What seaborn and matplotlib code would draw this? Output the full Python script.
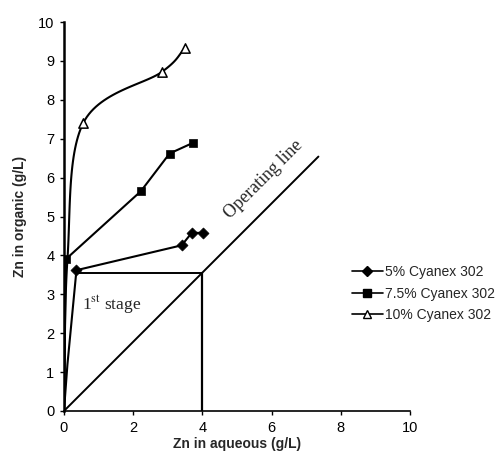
import numpy as np
import pandas as pd
import matplotlib
matplotlib.use("Agg")
import matplotlib.pyplot as plt
from matplotlib.lines import Line2D
import seaborn as sns

# Equilibrium data: Zn in aqueous vs Zn in organic (g/L)
aq_5 = [0.0, 0.10, 0.36, 3.40, 3.69, 4.01]
org_5 = [0.0, 1.20, 3.62, 4.26, 4.58, 4.58]

aq_75 = [0.0, 0.05, 2.22, 3.05, 3.74]
org_75 = [0.0, 3.90, 5.65, 6.62, 6.90]

aq_10 = [0.0, 0.10, 0.56, 2.83, 3.50]
org_10 = [0.0, 3.90, 7.41, 8.72, 9.33]

series_names = ["5% Cyanex 302", "7.5% Cyanex 302", "10% Cyanex 302"]

# Operating line and first-stage construction
op_x = [0.0, 7.35]
op_slope = 0.89
stage_aq = [0.36, 4.0]
stage_org = 3.55

x_ticks = [0, 2, 4, 6, 8, 10]
y_ticks = list(range(0, 11))

sns.set_theme(style="white")
plt.rcParams["font.family"] = ["Liberation Sans", "DejaVu Sans"]
plt.rcParams["mathtext.fontset"] = "stix"

fig = plt.figure(figsize=(5.01, 4.57), dpi=100)
ax = fig.add_axes([0.1277, 0.1007, 0.691, 0.851])

df5 = pd.DataFrame({"aq": aq_5, "org": org_5})
df75 = pd.DataFrame({"aq": aq_75, "org": org_75})
df10 = pd.DataFrame({"aq": aq_10, "org": org_10})

# 5% series: line through all points, markers on the plateau points
sns.lineplot(data=df5, x="aq", y="org", ax=ax, color="black", lw=1.5,
             sort=False, estimator=None)
sns.scatterplot(data=df5.iloc[2:], x="aq", y="org", ax=ax, marker="D",
                s=32, color="black", edgecolor="black", zorder=3)

# 7.5% series
sns.lineplot(data=df75, x="aq", y="org", ax=ax, color="black", lw=1.5,
             sort=False, estimator=None)
sns.scatterplot(data=df75.iloc[1:], x="aq", y="org", ax=ax, marker="s",
                s=38, color="black", edgecolor="black", zorder=3)


def catmull_rom(xs, ys, n=30):
    """Smoothed path through the given points (Catmull-Rom spline)."""
    p = np.column_stack([xs, ys]).astype(float)
    p = np.vstack([p[0] - (p[1] - p[0]), p, p[-1] + (p[-1] - p[-2])])
    out = []
    for i in range(1, len(p) - 2):
        p0, p1, p2, p3 = p[i - 1], p[i], p[i + 1], p[i + 2]
        t = np.linspace(0, 1, n, endpoint=False)[:, None]
        seg = 0.5 * ((2 * p1) + (-p0 + p2) * t
                     + (2 * p0 - 5 * p1 + 4 * p2 - p3) * t ** 2
                     + (-p0 + 3 * p1 - 3 * p2 + p3) * t ** 3)
        out.append(seg)
    out.append(p[-2][None, :])
    out = np.vstack(out)
    return out[:, 0], out[:, 1]


# 10% series: smoothed line, open triangles
sx, sy = catmull_rom(aq_10, org_10)
ax.plot(sx, sy, color="black", lw=1.5)
sns.scatterplot(data=df10.iloc[2:], x="aq", y="org", ax=ax, marker="^",
                s=45, facecolor="white", edgecolor="black", linewidth=1.1,
                zorder=3)

# Operating line
ax.plot(op_x, [v * op_slope for v in op_x], color="black", lw=1.4)
# First stage step
ax.plot(stage_aq, [stage_org, stage_org], color="black", lw=1.4)
ax.plot([stage_aq[1], stage_aq[1]], [stage_org, 0], color="black", lw=1.6)

ax.text(1.37, 2.72, "1$^{\\mathrm{st}}$ stage", family="Liberation Serif",
        fontsize=12.5, ha="center", va="center")
ax.text(5.78, 5.95, "Operating line", family="Liberation Serif",
        fontsize=13, ha="center", va="center", rotation=45,
        rotation_mode="anchor")

ax.set_xlim(0, 10)
ax.set_ylim(0, 10)
ax.set_xticks(x_ticks)
ax.set_yticks(y_ticks)
ax.tick_params(axis="both", direction="out", length=3, width=1,
               labelsize=10.5, colors="black", pad=4, bottom=True, left=True)
for side in ["top", "right"]:
    ax.spines[side].set_visible(False)
for side in ["left", "bottom"]:
    ax.spines[side].set_color("black")
ax.spines["left"].set_linewidth(1.8)
ax.spines["bottom"].set_linewidth(1.2)

ax.set_xlabel("Zn in aqueous (g/L)", fontsize=10, fontweight="bold", labelpad=2)
ax.set_ylabel("Zn in organic (g/L)", fontsize=10, fontweight="bold", labelpad=8)

handles = [
    Line2D([], [], color="black", lw=1.2, marker="D", markersize=5,
           markerfacecolor="black"),
    Line2D([], [], color="black", lw=1.2, marker="s", markersize=5.5,
           markerfacecolor="black"),
    Line2D([], [], color="black", lw=1.2, marker="^", markersize=6,
           markerfacecolor="white"),
]
fig.legend(handles, series_names, loc="upper left",
           bbox_to_anchor=(352 / 501, 1 - 265 / 457), frameon=False,
           fontsize=10, handlelength=2.2, handletextpad=0.2,
           labelspacing=0.55, borderaxespad=0, borderpad=0)

fig.savefig("out.png", dpi=100, facecolor="white")
